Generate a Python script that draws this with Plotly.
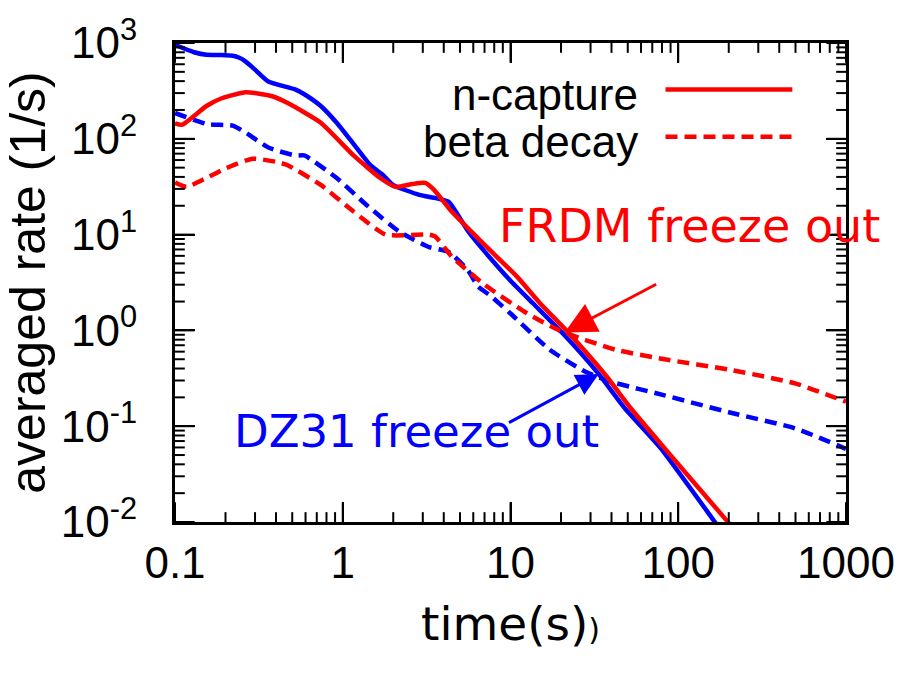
import math
import plotly.graph_objects as go

# ---- averaged rates vs. time (log-log) ----
# DZ31 mass model
t_dz_ncap = [0.1, 0.13, 0.154, 0.19, 0.221, 0.24, 0.264, 0.30, 0.36, 0.52, 0.59, 0.74, 0.92,
             1.15, 1.46, 1.74, 1.99, 2.86, 3.6, 4.28, 5.6, 6.96, 10, 13.6, 20.4,
             33.6, 48.3, 78.5, 162, 200]
r_dz_ncap = [955, 800, 752, 750, 735, 705, 640, 527, 397, 328, 292, 220, 147,
             90, 53, 41.8, 33, 26, 24, 22, 10.8, 6.76, 3.3, 1.92, 0.94,
             0.35, 0.152, 0.059, 0.0105, 0.0063]

t_dz_beta = [0.1, 0.154, 0.221, 0.264, 0.36, 0.52, 0.59, 0.92, 1.38, 2.18, 3.27,
             4.28, 5.6, 6.4, 7.6, 10, 17.1, 28, 40, 82.8, 200, 497, 1000]
r_dz_beta = [186, 143, 137, 116, 81, 67, 67, 39, 20.5, 10.7, 7.4,
             6.6, 4.2, 2.88, 2.3, 1.5, 0.63, 0.37, 0.29, 0.21, 0.14, 0.095, 0.058]

# FRDM mass model
t_frdm_ncap = [0.1, 0.11, 0.154, 0.19, 0.264, 0.38, 0.47, 0.74, 1.16, 1.67, 2.07,
               2.6, 3.1, 3.5, 4.46, 6.96, 11, 15, 21.5, 36.9, 52.4, 82.8, 194, 250]
r_frdm_ncap = [145, 140, 220, 265, 306, 278, 236, 147, 67, 39, 31.5,
               33.7, 34.6, 29.3, 17.4, 7.9, 3.6, 1.92, 1.0, 0.34, 0.152, 0.059, 0.0104, 0.0063]

t_frdm_beta = [0.1, 0.117, 0.154, 0.2, 0.29, 0.41, 0.47, 0.74, 1.16, 1.8, 3.27,
               3.55, 4.46, 7, 12.6, 19.5, 42, 82.8, 200, 497, 1000]
r_frdm_beta = [35, 31.5, 39, 49, 62, 57, 53, 33, 17.4, 10, 10,
               9.6, 5.9, 3.0, 1.5, 1.0, 0.63, 0.5, 0.39, 0.28, 0.18]

# freeze-out points (time, rate) and arrow tails
frdm_freeze = (21.0, 0.95)
frdm_tail = (75.4, 3.09)
dz_freeze = (33.6, 0.35)
dz_tail = (9.6, 0.107)

x_ticks = [0.1, 1, 10, 100, 1000]
x_ticktext = ["0.1", "1", "10", "100", "1000"]
y_ticks = [0.01, 0.1, 1, 10, 100, 1000]
y_ticktext = ["10<sup>-2</sup>", "10<sup>-1</sup>", "10<sup>0</sup>",
              "10<sup>1</sup>", "10<sup>2</sup>", "10<sup>3</sup>"]

RED = "#ff0000"
BLUE = "#0000ff"
DASH = "12px,7px"
TICK_FONT = "Liberation Sans, Arial, sans-serif"
LABEL_FONT = "DejaVu Sans, sans-serif"

W, H = 907, 676
MARGIN = dict(l=168, r=55, t=36, b=154)
PLOT_W = W - MARGIN["l"] - MARGIN["r"]
PLOT_H = H - MARGIN["t"] - MARGIN["b"]
MAJOR_LEN, MINOR_LEN = 20, 10

fig = go.Figure()
curves = [
    (t_dz_beta, r_dz_beta, BLUE, DASH),
    (t_dz_ncap, r_dz_ncap, BLUE, None),
    (t_frdm_beta, r_frdm_beta, RED, DASH),
    (t_frdm_ncap, r_frdm_ncap, RED, None),
]
for t, r, color, dash in curves:
    fig.add_trace(go.Scatter(x=t, y=r, mode="lines",
                             line=dict(color=color, width=4.5, dash=dash,
                                       shape="spline", smoothing=0.5),
                             showlegend=False))

axis_common = dict(
    type="log", showgrid=False, zeroline=False,
    showline=True, linecolor="black", linewidth=3, mirror="allticks",
    ticks="inside", ticklen=MAJOR_LEN, tickwidth=2, tickcolor="black",
    tickfont=dict(family=TICK_FONT, size=44, color="black"),
)

fig.update_xaxes(
    **axis_common, range=[-1, 3],
    tickmode="array", tickvals=x_ticks, ticktext=x_ticktext,
    title=dict(text="time(s)<span style='font-size:30px'>)</span>",
               font=dict(family=LABEL_FONT, size=47, color="black"), standoff=22),
)
fig.update_yaxes(
    **axis_common, range=[-2, 3],
    tickmode="array", tickvals=y_ticks, ticktext=y_ticktext,
    ticklabelstandoff=26,
    title=dict(text="averaged rate (1/s)",
               font=dict(family=TICK_FONT, size=50, color="black"), standoff=14),
)

# inward tick marks on all four sides (major at decades, minor at 2..9);
# shape coordinates on the log axes are given as data values
minor_x = [k * 10 ** e for e in range(-1, 3) for k in range(2, 10)]
minor_y = [k * 10 ** e for e in range(-2, 3) for k in range(2, 10)]
tick_line = dict(color="black", width=2)
for vals, length in [(x_ticks, MAJOR_LEN), (minor_x, MINOR_LEN)]:
    frac = length / PLOT_H
    for v in vals:
        fig.add_shape(type="line", xref="x", yref="paper", x0=v, x1=v,
                      y0=0, y1=frac, line=tick_line)
        fig.add_shape(type="line", xref="x", yref="paper", x0=v, x1=v,
                      y0=1, y1=1 - frac, line=tick_line)
for vals, length in [(y_ticks, MAJOR_LEN), (minor_y, MINOR_LEN)]:
    frac = length / PLOT_W
    for v in vals:
        fig.add_shape(type="line", xref="paper", yref="y", y0=v, y1=v,
                      x0=0, x1=frac, line=tick_line)
        fig.add_shape(type="line", xref="paper", yref="y", y0=v, y1=v,
                      x0=1, x1=1 - frac, line=tick_line)

# key: text on the left, line sample on the right
key = [("n-capture", 0.903, None), ("beta decay", 0.8045, DASH)]
for label, ypos, dash in key:
    fig.add_shape(type="line", xref="paper", yref="paper",
                  x0=0.731, x1=0.92, y0=ypos, y1=ypos,
                  line=dict(color=RED, width=4.5, dash=dash))
    fig.add_annotation(text=label, xref="paper", yref="paper",
                       x=0.693, y=ypos - 0.01, xanchor="right", yanchor="middle",
                       showarrow=False,
                       font=dict(family=TICK_FONT, size=44, color="black"))

# freeze-out arrows (annotation positions on log axes use log10 values)
for (xh, yh), (xt, yt), color, size in [(frdm_freeze, frdm_tail, RED, 2.1),
                                        (dz_freeze, dz_tail, BLUE, 1.5)]:
    fig.add_annotation(x=math.log10(xh), y=math.log10(yh),
                       ax=math.log10(xt), ay=math.log10(yt),
                       axref="x", ayref="y", xref="x", yref="y",
                       showarrow=True, arrowhead=2, arrowsize=size, arrowwidth=3,
                       arrowcolor=color, text="")

fig.add_annotation(text="FRDM freeze out", xref="paper", yref="paper",
                   x=(692 - 168) / PLOT_W, y=(522 - 222) / PLOT_H,
                   xanchor="center", yanchor="middle", showarrow=False,
                   font=dict(family=LABEL_FONT, size=46, color=RED))
fig.add_annotation(text="DZ31 freeze out", xref="paper", yref="paper",
                   x=(414 - 168) / PLOT_W, y=(522 - 430) / PLOT_H,
                   xanchor="center", yanchor="middle", showarrow=False,
                   font=dict(family=LABEL_FONT, size=45, color=BLUE))

fig.update_layout(
    width=W, height=H,
    margin=MARGIN,
    paper_bgcolor="white", plot_bgcolor="white",
    showlegend=False,
)

fig.write_html("out.html")
